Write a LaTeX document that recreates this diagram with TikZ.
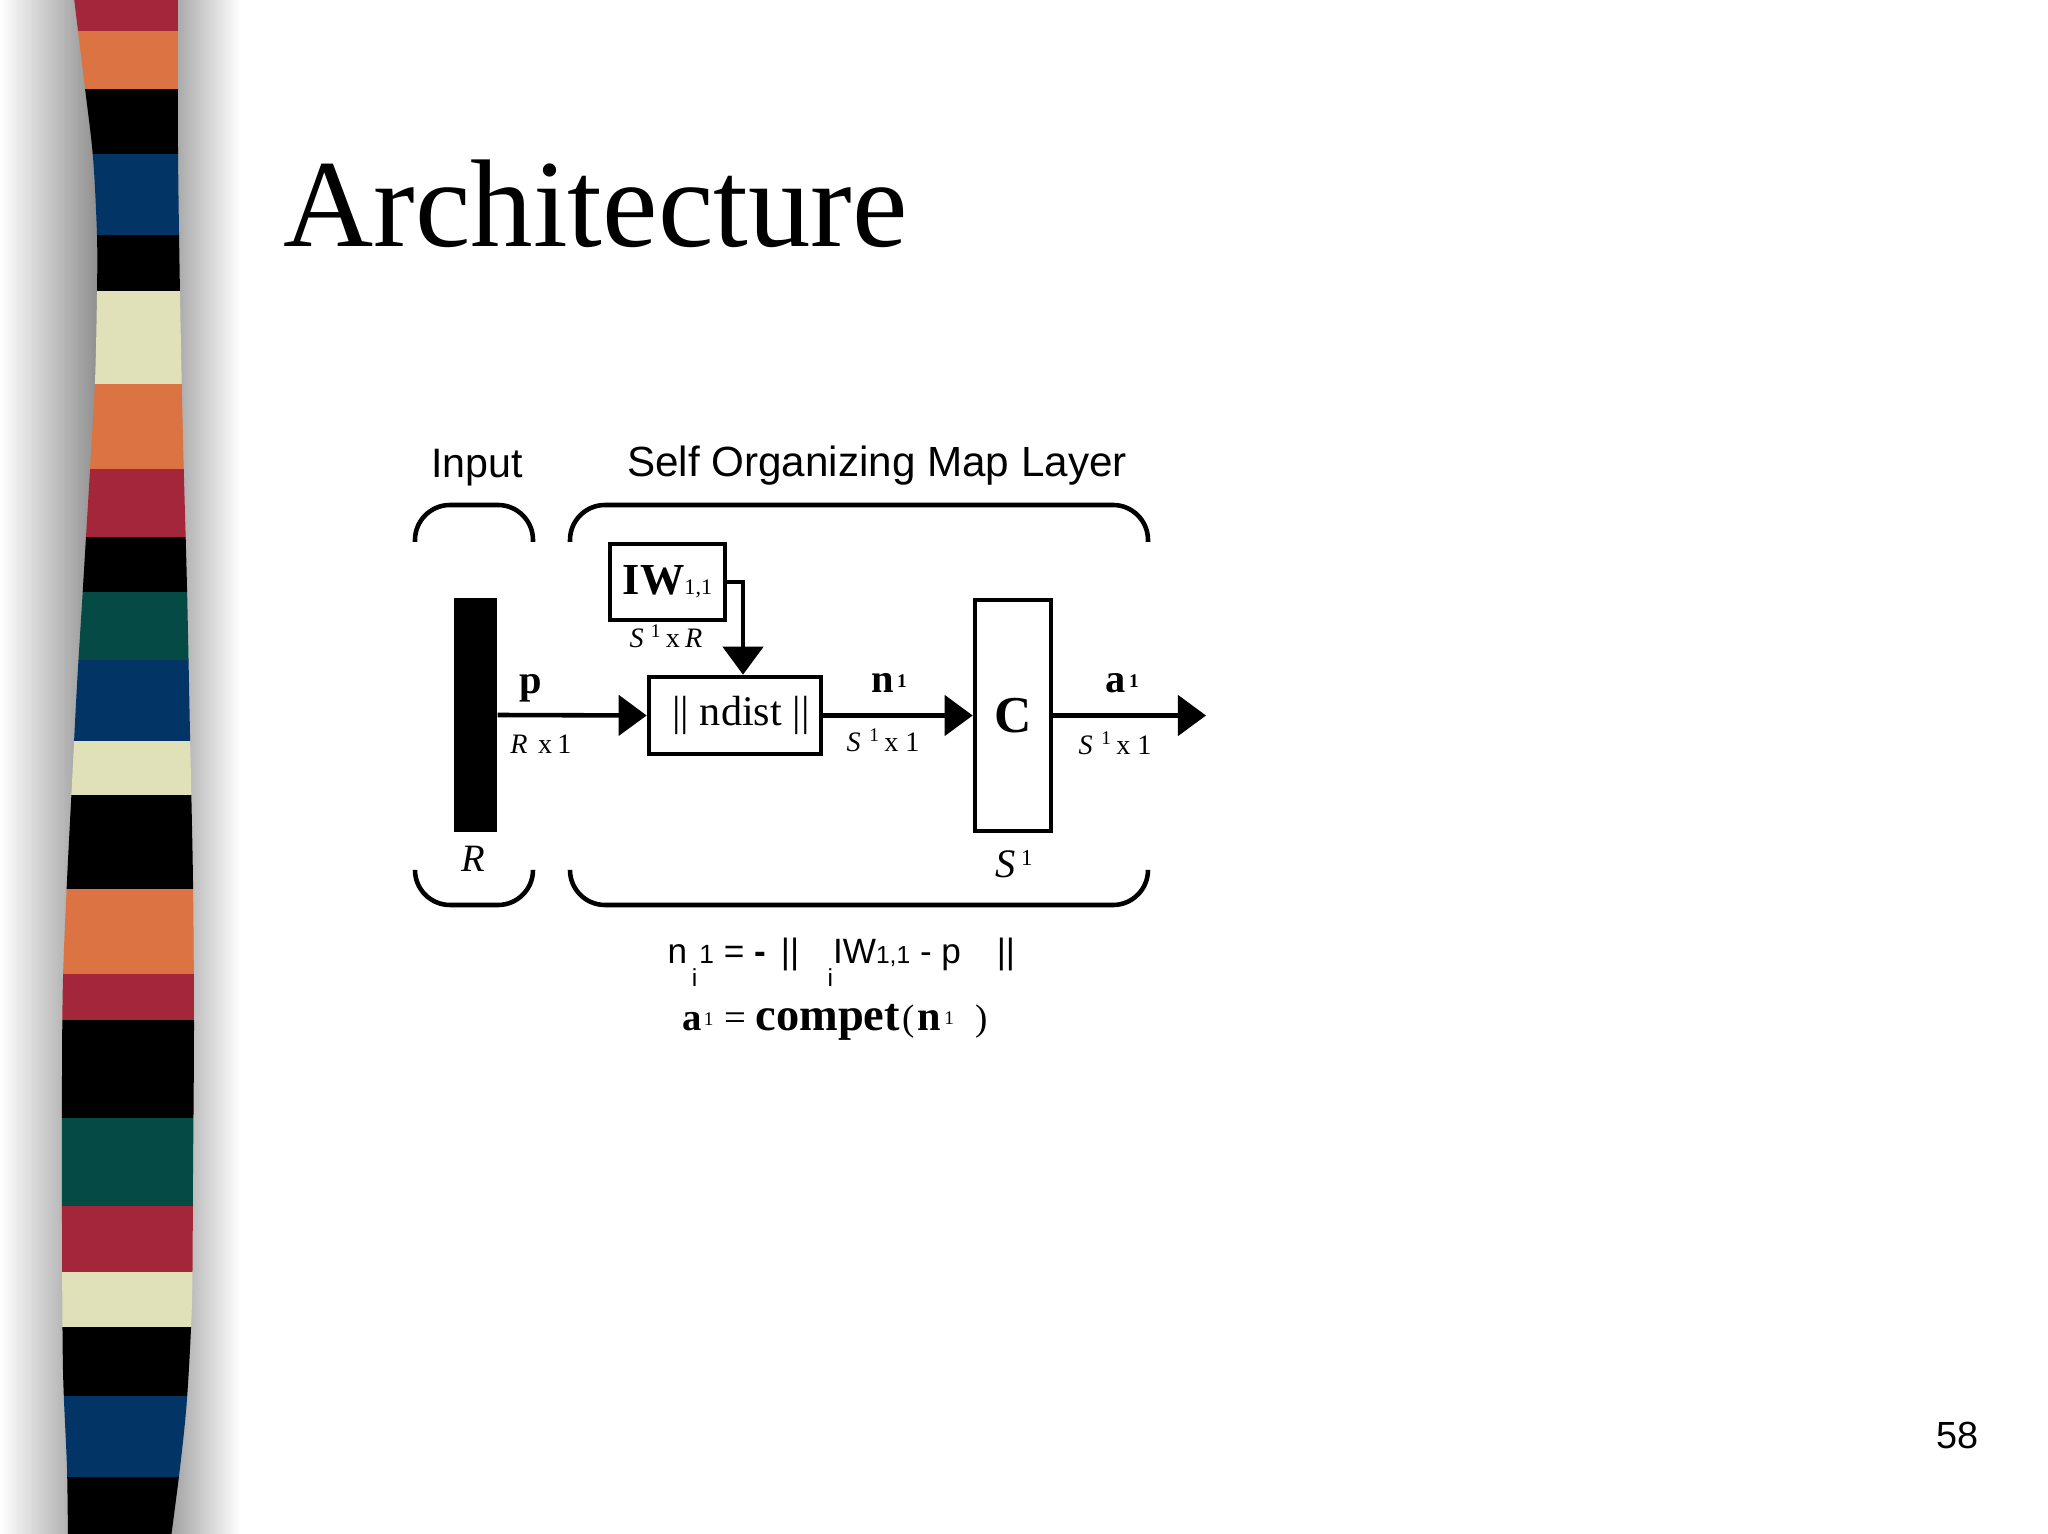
\documentclass[tikz,border=0pt]{standalone}
\usepackage{fontspec}
\setmainfont{Liberation Serif}
\newfontfamily\helv{Liberation Sans}
\usetikzlibrary{arrows.meta}

\definecolor{stripered}{HTML}{A3263A}
\definecolor{stripeorange}{HTML}{DB7342}
\definecolor{stripeblue}{HTML}{033466}
\definecolor{stripecream}{HTML}{E1E1B9}
\definecolor{stripeteal}{HTML}{054A45}

\tikzset{
  wire/.style={line width=1.3pt},
  tip/.style={-{Triangle[length=2.8mm,width=4mm]}},
  blockbox/.style={draw, line width=1.3pt, inner sep=0pt},
  brace/.style={line width=1.3pt, rounded corners=0.35cm},
  sig/.style={anchor=base, inner sep=0pt, font=\bfseries\fontsize{11.5}{11.5}\selectfont},
  dims/.style={anchor=base, inner sep=0pt, font=\fontsize{8}{8}\selectfont},
}

\newcommand{\supone}[1]{\raisebox{#1}{\fontsize{5.5}{5.5}\selectfont 1}}

\begin{document}
\begin{tikzpicture}[x=0.01cm, y=-0.01cm]
  \useasboundingbox (0,0) rectangle (2048,1534);
  \fill[white] (0,0) rectangle (2048,1534);
  % shadow of the band
  \shade[left color=white, right color=black!45] (0,0) rectangle (100,1534);
  \shade[left color=black!40, right color=white] (165,0) rectangle (240,1534);
  % striped band
  \begin{scope}
    \clip plot[smooth] coordinates {(73,-10) (85,88) (93,157) (97,235) (97,294) (95,382) (90,470) (83,587)
      (77,685) (72,783) (67,881) (63,978) (62,1076) (62,1223) (63,1370) (67,1468) (68,1545)}
      -- plot[smooth] coordinates {(170,1545) (180,1468) (187,1399) (192,1301) (193,1174) (194,1027)
      (193,881) (190,734) (187,587) (183,440) (180,294) (178,147) (178,-10)} -- cycle;
    \fill[stripered] (0,-10) rectangle (250,31);
    \fill[stripeorange] (0,31) rectangle (250,89);
    \fill[black] (0,89) rectangle (250,154);
    \fill[stripeblue] (0,154) rectangle (250,235);
    \fill[black] (0,235) rectangle (250,291);
    \fill[stripecream] (0,291) rectangle (250,384);
    \fill[stripeorange] (0,384) rectangle (250,469);
    \fill[stripered] (0,469) rectangle (250,537);
    \fill[black] (0,537) rectangle (250,592);
    \fill[stripeteal] (0,592) rectangle (250,660);
    \fill[stripeblue] (0,660) rectangle (250,741);
    \fill[stripecream] (0,741) rectangle (250,795);
    \fill[black] (0,795) rectangle (250,889);
    \fill[stripeorange] (0,889) rectangle (250,974);
    \fill[stripered] (0,974) rectangle (250,1020);
    \fill[black] (0,1020) rectangle (250,1118);
    \fill[stripeteal] (0,1118) rectangle (250,1206);
    \fill[stripered] (0,1206) rectangle (250,1272);
    \fill[stripecream] (0,1272) rectangle (250,1327);
    \fill[black] (0,1327) rectangle (250,1396);
    \fill[stripeblue] (0,1396) rectangle (250,1477);
    \fill[black] (0,1477) rectangle (250,1545);
  \end{scope}

  % title and page number
  \node[anchor=base west, inner sep=0pt, font=\fontsize{35.5}{36}\selectfont] (title) at (283,247) {Architecture};
  \node[anchor=base east, inner sep=0pt, font=\helv\fontsize{10.75}{11}\selectfont] (pagenum) at (1979,1448) {58};

  % group headings and braces
  \node[anchor=base, inner sep=0pt, font=\helv\fontsize{11.7}{12}\selectfont] (inhead) at (477,478) {Input};
  \node[anchor=base, inner sep=0pt, font=\helv\fontsize{12}{12}\selectfont] (somhead) at (877,477) {Self Organizing Map Layer};
  \draw[brace] (415,542) -- (415,505) -- (533,505) -- (533,542);
  \draw[brace] (570,542) -- (570,505) -- (1148,505) -- (1148,542);
  \draw[brace] (415,870) -- (415,905) -- (533,905) -- (533,870);
  \draw[brace] (570,870) -- (570,905) -- (1148,905) -- (1148,870);

  % blocks
  \node[fill=black, inner sep=0pt, minimum width=0.43cm, minimum height=2.34cm] (inbar) at (475.5,715) {};
  \node[blockbox, minimum width=1.15cm, minimum height=0.76cm] (iw) at (667.5,582)
    {\raisebox{1pt}{{\bfseries\fontsize{12.6}{12.6}\selectfont IW}{\fontsize{6.3}{6.3}\selectfont 1,1}}};
  \node[blockbox, minimum width=1.72cm, minimum height=0.77cm, font=\fontsize{12}{12}\selectfont] (ndist) at (735,715.5)
    {\hspace{3.4pt}|| ndist ||};
  \node[blockbox, minimum width=0.76cm, minimum height=2.31cm, font=\bfseries\fontsize{14.7}{14.7}\selectfont] (compet) at (1013,715.5)
    {\raisebox{-2pt}{C}};
  \coordinate (aout) at (1206,715.5);

  % connectors
  \draw[wire, tip] (inbar.east) -- (ndist.west);
  \draw[wire, tip] (ndist.east) -- (compet.west);
  \draw[wire, tip] (compet.east) -- (aout);
  \draw[wire, tip] (iw.east) -| ([xshift=0.08cm]ndist.north);

  % signal names and sizes
  \node[sig] (plbl) at (531,694) {p};
  \node[sig] (nlbl) at (889,693) {n\hspace{1pt}\supone{1.6pt}};
  \node[sig] (albl) at (1122,693) {a\hspace{1pt}\supone{1.6pt}};
  \node[dims] (pdim) at (541,754) {\textit{R}\hspace{3pt}x\hspace{1.5pt}1};
  \node[dims] (iwdim) at (666,648) {\textit{S}\hspace{2pt}\supone{3pt}\hspace{1.5pt}x\hspace{1.5pt}\textit{R}};
  \node[dims] (ndim) at (883,752) {\textit{S}\hspace{2.5pt}\supone{3pt}\hspace{1.5pt}x\hspace{2pt}1};
  \node[dims] (adim) at (1115,755) {\textit{S}\hspace{2.5pt}\supone{3pt}\hspace{1.5pt}x\hspace{2pt}1};
  \node[anchor=base, inner sep=0pt, font=\itshape\fontsize{11}{11}\selectfont] (rsize) at (473,872) {R};
  \node[anchor=base, inner sep=0pt, font=\fontsize{11.5}{11.5}\selectfont] (ssize) at (1014,877)
    {\textit{S}\hspace{1.6pt}\raisebox{3.3pt}{\fontsize{6.5}{6.5}\selectfont 1}};

  % equations
  \node[anchor=base west, inner sep=0pt, font=\helv\fontsize{10}{10}\selectfont] (eqn) at (667,963)
    {n\hspace{1.3pt}\raisebox{-6.8pt}{\fontsize{7}{7}\selectfont i}\hspace{0.6pt}{\fontsize{7.5}{7.5}\selectfont 1} = {\bfseries -} \hspace{1.5pt}|| \hspace{5.3pt}\raisebox{-6.8pt}{\fontsize{7}{7}\selectfont i}IW{\fontsize{7}{7}\selectfont 1,1} - p \hspace{7.4pt}||};
  \node[anchor=base west, inner sep=0pt, font=\fontsize{11}{11}\selectfont] (eqa) at (682,1030)
    {{\bfseries a}\hspace{0.5pt}\supone{1.3pt}\hspace{3pt}=\hspace{2.8pt}{\bfseries\fontsize{13.2}{13.2}\selectfont compet}\hspace{0.6pt}{\fontsize{10.5}{10.5}\selectfont(}\hspace{1pt}{\bfseries\fontsize{12}{12}\selectfont n}\hspace{0.8pt}\supone{1.6pt}\hspace{6pt}{\fontsize{10.5}{10.5}\selectfont)}};
\end{tikzpicture}
\end{document}
